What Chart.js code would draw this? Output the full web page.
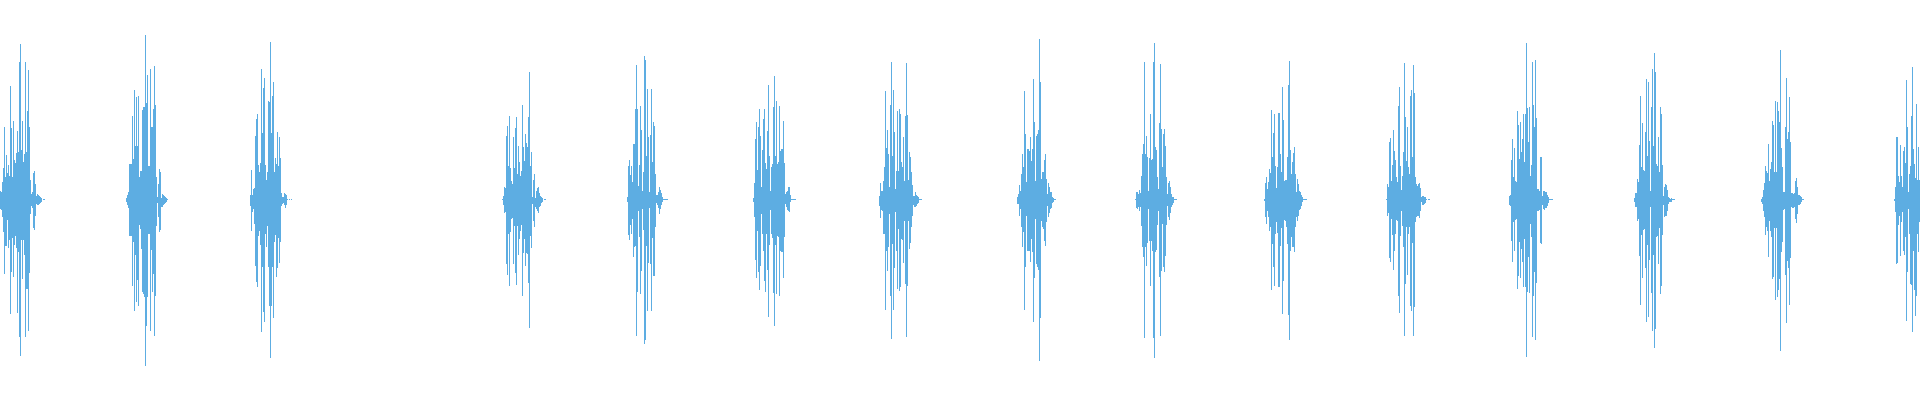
<!DOCTYPE html>
<html>
<head>
<meta charset="utf-8">
<title>Waveform</title>
<script src="https://cdn.jsdelivr.net/npm/chart.js"></script>
<style>
  body { margin: 0; background: #ffffff; }
  #wrap { width: 1920px; height: 400px; }
</style>
</head>
<body>
<div id="wrap"><canvas id="chartCanvas" width="1920" height="400"></canvas></div>
<script>
// sample index where each burst begins
let burstStart = [0, 126, 250, 502, 627, 753, 879, 1017, 1135, 1264, 1386, 1509, 1634, 1761, 1894];

// positive peak per column, one list per burst (full scale = 200)
let burstUpper = [
  [9,8,18,32,73,23,45,27,35,24,114,72,23,79,40,37,47,69,48,138,156,50,79,38,46,138,48,89,130,73,20,6,8,27,29,16,4,6,5,4,3,2,0,1,1],
  [2,5,8,36,36,36,84,41,110,54,103,54,104,23,29,29,90,93,93,165,97,125,34,34,131,73,73,91,134,95,23,3,16,31,28,2,6,5,4,3,2,1],
  [5,30,5,11,12,64,81,86,35,28,37,131,67,112,122,35,20,28,99,98,158,67,104,118,28,42,36,68,34,63,42,7,3,3,7,6,5,1,0,1,0,1],
  [1,4,13,12,64,74,34,84,32,19,16,63,32,72,83,26,54,38,24,29,95,53,39,66,57,53,83,128,34,48,3,20,26,2,9,12,13,7,4,3,2,0,1,1],
  [3,34,40,25,34,18,56,56,91,135,91,14,35,94,70,9,28,144,140,44,111,63,8,65,111,38,78,74,26,5,5,8,13,10,7,3,1,1,1,1,1],
  [2,17,61,78,30,73,91,64,13,50,81,91,37,31,69,115,44,9,33,36,93,124,44,99,36,38,94,49,51,51,79,37,6,8,9,13,13,5,1,1,1,1,1],
  [4,17,9,9,19,33,109,52,70,46,13,95,138,44,110,68,11,29,89,29,91,86,38,33,63,19,84,137,85,20,48,43,28,15,4,4,8,5,4,3,1,1,1],
  [3,6,15,9,26,46,33,109,66,18,51,51,49,63,39,51,121,78,19,64,66,70,161,118,21,28,28,40,46,21,6,17,13,8,8,3,2,1,1],
  [1,8,8,6,10,7,24,46,56,138,46,64,43,9,42,86,40,41,138,157,53,50,23,11,77,136,71,33,66,71,54,23,6,17,19,13,6,3,3,1,1,1],
  [1,17,23,11,18,31,27,90,43,67,86,34,12,33,87,87,46,28,113,80,19,20,20,43,115,139,50,26,38,47,53,26,8,21,16,9,8,5,3,1,1,1,1],
  [1,16,13,58,62,19,35,70,49,40,23,18,94,113,34,10,24,48,137,83,39,73,33,26,104,110,43,135,107,23,16,14,16,17,12,3,4,4,3,3,1,0,1,1],
  [4,5,40,61,23,52,19,18,89,75,41,78,48,61,86,38,86,157,92,58,93,24,35,138,95,73,140,82,11,11,9,43,43,4,9,9,8,8,5,3,1,1,1,1],
  [2,7,7,21,18,55,104,33,77,30,29,68,121,44,118,59,9,93,131,54,147,128,36,34,63,28,93,86,35,4,13,16,15,10,3,2,1,2,1,1,1],
  [1,3,10,17,34,29,27,56,19,31,38,79,75,28,99,28,98,89,78,150,52,33,8,8,73,122,61,68,103,58,7,7,6,7,19,22,13,5,5,4,3,1,1],
  [1,13,63,63,24,18,55,24,13,49,53,37,120,73,8,26,34,84,133,51,36,22,96,20,53,20]
];

// negative peak per column (magnitude), same layout
let burstLower = [
  [9,10,17,32,74,46,46,20,48,40,114,72,38,77,45,36,48,113,52,137,156,40,79,40,55,137,89,89,131,73,14,6,8,28,30,16,4,5,5,4,3,2,0,0,0],
  [2,5,8,36,36,36,86,42,111,55,102,80,106,25,29,49,92,94,97,166,126,97,34,34,131,50,92,74,136,96,26,3,17,32,30,7,7,5,4,3,2,0],
  [6,31,12,9,24,66,82,87,36,31,45,132,67,112,122,34,47,26,67,106,158,106,67,118,42,35,77,68,38,63,42,6,4,3,5,8,5,0,0,0,0,0],
  [0,5,13,12,64,75,34,86,32,19,18,64,26,73,85,26,55,39,31,25,96,53,39,66,53,54,83,128,36,48,4,21,27,7,9,11,13,7,6,3,2,0,0,0],
  [2,35,40,25,34,19,57,47,46,136,92,11,37,94,71,9,30,144,140,46,111,63,8,64,111,38,76,76,27,3,5,8,14,9,5,2,0,0,0,0,0],
  [2,17,60,78,31,72,90,66,14,34,51,81,92,34,70,117,45,10,34,38,93,126,45,94,36,37,96,51,52,52,78,37,4,7,10,11,12,2,0,0,0,0,0],
  [6,18,10,11,34,34,110,51,71,47,14,96,139,44,110,68,12,51,89,29,91,87,39,40,63,21,84,137,86,21,49,43,27,16,5,7,7,6,4,3,0,0,0],
  [4,4,16,9,27,47,32,110,67,16,51,51,51,62,39,52,122,78,19,64,67,70,161,118,21,27,29,41,46,22,6,17,13,9,8,3,2,0,0],
  [0,8,9,7,11,7,26,47,57,138,47,66,43,9,41,86,41,51,138,158,52,50,25,11,77,136,71,24,67,72,56,25,6,17,20,13,7,5,3,0,0,0],
  [1,17,24,11,17,31,27,90,44,67,86,34,22,33,87,87,46,28,114,81,20,21,27,44,115,140,51,37,47,47,52,27,17,21,16,10,9,6,2,0,0,0,0],
  [0,16,13,58,62,19,35,70,51,34,20,21,96,113,36,11,26,47,136,84,27,75,34,27,106,111,43,136,107,22,17,16,16,18,11,2,5,5,4,3,0,0,0,0],
  [5,6,41,62,22,51,20,19,89,76,42,78,49,62,87,39,87,157,92,57,93,24,37,137,96,72,140,83,11,11,10,43,44,5,9,10,8,8,6,3,0,0,0,0],
  [2,7,7,21,19,56,105,35,78,30,29,68,122,45,117,60,7,93,131,55,148,129,37,36,64,28,94,86,35,5,17,16,16,11,4,2,2,2,0,0,0],
  [2,4,11,17,35,27,31,57,21,31,37,79,77,28,100,28,97,90,79,151,52,42,10,9,75,123,61,68,105,58,7,8,8,7,19,23,14,5,5,4,2,0,0],
  [1,12,64,63,25,16,56,22,12,51,55,37,121,72,9,34,84,85,132,51,90,116,96,34,52,22]
];

let waveColor = '#5DADE2';

// one floating bar per sample column: [ -lower, upper ]
let points = [];
burstStart.forEach((start, b) => {
  burstUpper[b].forEach((up, j) => {
    points.push({ x: start + j, y: [-burstLower[b][j], up] });
  });
});

let ctx = document.getElementById('chartCanvas').getContext('2d');
let chartInstance = new Chart(ctx, {
  type: 'bar',
  data: {
    datasets: [{
      data: points,
      backgroundColor: waveColor,
      borderWidth: 0,
      borderSkipped: false,
      inflateAmount: 0,
      barThickness: 1
    }]
  },
  options: {
    responsive: false,
    animation: false,
    events: [],
    layout: { padding: 0 },
    plugins: {
      legend: { display: false },
      tooltip: { enabled: false }
    },
    scales: {
      x: { type: 'linear', min: -0.5, max: 1919.5, offset: false, display: false },
      y: { min: -200, max: 200, display: false }
    }
  }
});
</script>
</body>
</html>
